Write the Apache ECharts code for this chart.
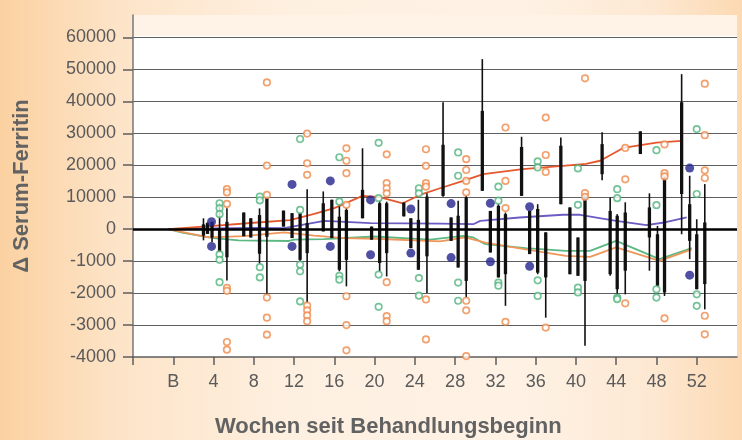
<!DOCTYPE html>
<html>
<head>
<meta charset="utf-8">
<script src="https://cdn.jsdelivr.net/npm/echarts@6/dist/echarts.min.js"></script>
<style>
html,body{margin:0;padding:0;}
body{width:742px;height:440px;background:linear-gradient(90deg,#fbd1a1 0%,#fde4c8 16%,#fef0e1 40%,#fef2e5 70%,#fde8d2 88%,#fcd9b2 100%);}
#c{width:742px;height:440px;}
</style>
</head>
<body>
<div id="c"></div>
<script>
// ---- tick labels ----
const xTickValues = [0,4,8,12,16,20,24,28,32,36,40,44,48,52];
const xTickLabels = ['B','4','8','12','16','20','24','28','32','36','40','44','48','52'];
const yTickValues = [-40000,-30000,-20000,-10000,0,10000,20000,30000,40000,50000,60000];
const yTickLabels = ['-4000','-3000','-2000','-1000','0','10000','20000','30000','40000','50000','60000'];

// ---- median lines [week, value] ----
const lineUpper = [[-0.5,0],[4,1000],[8,2000],[11.6,2800],[14,4800],[16,6600],[18.8,10400],[20.5,10000],[22.8,8100],[24.5,10700],[26.5,12800],[28.8,15100],[30.8,17200],[34.7,18800],[38.7,19800],[41,20400],[42.4,21400],[44.7,25400],[48,27100],[50.5,27600]];
const lineNavy = [[-0.5,0],[4,200],[8,400],[11,300],[15,2600],[19.6,1900],[26.5,1700],[29.8,1550],[30.5,2600],[34.4,3650],[38.7,4500],[40.4,4500],[44,2600],[47,1250],[48.6,2000],[51,3650]];
const lineGreen = [[-0.5,0],[1,-1200],[4,-2800],[6.5,-3500],[11.5,-3700],[12,-3300],[15,-3100],[20,-2300],[25.5,-3300],[28.8,-2100],[29.8,-2600],[31,-4700],[35,-5950],[39,-6800],[41.4,-6800],[44,-3650],[48.3,-9400],[51.5,-5950]];
const lineLower = [[-0.5,0],[3.5,-2600],[7,-2200],[11,-1000],[14,-2000],[17,-2800],[20,-3000],[26.5,-3850],[29,-2600],[31,-4200],[35,-6300],[39,-8350],[41.4,-8700],[44,-5700],[48.3,-9900],[51.5,-6300]];

// ---- range bars [week, thinLow, thinHigh, thickLow, thickHigh] ----
const rangeBars = [
 [3.0,-3500,3400,-2000,1500],[3.4,-1500,2000,-1500,2000],[3.85,-4000,2300,-2600,2300],[4.6,-7200,8100,-7200,200],[5.33,-16100,6500,-8800,2300],
 [7.0,-2200,5200,-2200,5200],[7.7,-2600,3400,-2600,3400],[8.57,-10800,6500,-7700,4400],[9.3,-20300,10200,-2400,10200],
 [10.95,800,5800,800,5800],[11.8,-2800,5000,-2800,5000],[12.6,-10100,5000,-9600,5000],[13.3,-23100,12500,-7500,1900],
 [14.9,-700,11800,-700,8100],[15.75,-2800,9200,-2800,9200],[16.5,-13200,7100,-12700,3900],[17.2,-17900,6600,-9600,6000],
 [18.8,3400,25300,3400,12300],[19.7,-3300,800,-3300,800],[20.5,-13200,9200,-10600,8100],[21.2,-14800,8600,-7500,8100],
 [22.9,4000,8300,4000,8300],[23.6,-5900,3400,-5900,3400],[24.35,-12700,9200,-12700,2900],[25.2,-20000,11200,-8500,10200],
 [26.8,10100,39700,10400,26400],[27.6,-3650,3650,-3650,3650],[28.3,-12000,8900,-12000,4200],[29.1,-21400,10400,-16200,9900],
 [30.7,12000,53200,12000,37000],[31.5,-7300,5700,-7300,5700],[32.3,-15100,7800,-15100,7300],[33.0,-24000,5200,-14100,4700],
 [34.6,10400,28900,10400,25700],[35.4,-7800,5700,-7800,5700],[36.2,-14100,7800,-13600,6300],[37.0,-27700,-1000,-15100,-1000],
 [38.5,7800,28700,7800,26100],[39.4,-14100,6800,-14100,6800],[40.2,-14600,-2600,-14600,-2600],[40.9,-36500,11000,-16200,10400],
 [42.6,15300,30300,17200,26600],[43.4,-14600,9900,-14100,5700],[44.1,-20600,4700,-18800,4200],[44.9,-20400,8400,-13000,5200],
 [46.4,23500,30600,23500,30600],[47.3,-13000,11200,-2600,6800],[48.1,-18300,1000,-17700,-1600],[48.8,-20900,17700,-19800,16100],
 [50.5,-1600,48500,11000,39700],[51.3,-9400,16700,-3650,7800],[52.0,-18800,3100,-18800,-1600],[52.8,-25100,14100,-17200,2100]
];

// ---- individual points [week, value] ----
const navyPoints = [[3.8,2300],[3.8,-5400],[11.8,14000],[11.8,-5400],[15.6,15100],[15.6,-5400],[19.6,9150],[19.6,-8000],[23.6,6300],[23.6,-7500],[27.6,8000],[27.6,-8900],[31.5,8100],[31.5,-10200],[35.4,7000],[35.4,-11600],[51.3,19100],[51.3,-14400]];
const orangePoints = [
 [5.33,12500],[5.33,11500],[5.33,7900],[5.33,-18400],[5.33,-19300],[5.33,-35300],[5.33,-37700],
 [9.3,45900],[9.3,19900],[9.3,10700],[9.3,-21400],[9.3,-27700],[9.3,-33000],
 [13.3,29900],[13.3,20600],[13.3,17000],[13.3,-23900],[13.3,-25400],[13.3,-27000],[13.3,-28800],
 [17.2,25300],[17.2,21400],[17.2,17500],[17.2,7600],[17.2,-21000],[17.2,-30000],[17.2,-37900],
 [21.2,23400],[21.2,14400],[21.2,12800],[21.2,11200],[21.2,-16600],[21.2,-27200],[21.2,-28800],
 [25.1,25000],[25.1,19800],[25.1,14400],[25.1,13300],[25.1,-22000],[25.1,-34500],
 [29.1,21900],[29.1,18500],[29.1,15100],[29.1,11500],[29.1,-22400],[29.1,-25400],[29.1,-39700],
 [33.0,31800],[33.0,15100],[33.0,6600],[33.0,-29000],
 [37.0,34900],[37.0,23200],[37.0,17900],[37.0,-30800],
 [40.9,47200],[40.9,11300],[40.9,10100],
 [44.9,25400],[44.9,15600],[44.9,-23200],
 [48.8,26500],[48.8,17500],[48.8,16500],[48.8,-27900],
 [52.8,45500],[52.8,29400],[52.8,18400],[52.8,16000],[52.8,-27100],[52.8,-32900]
];
const greenPoints = [
 [4.6,8100],[4.6,6500],[4.6,4700],[4.6,-7900],[4.6,-9600],[4.6,-16600],
 [8.6,10200],[8.6,9000],[8.6,-11900],[8.6,-15100],
 [12.6,28200],[12.6,6000],[12.6,-11100],[12.6,-13200],[12.6,-22600],
 [16.5,22500],[16.5,8600],[16.5,-14600],[16.5,-15800],
 [20.4,27000],[20.4,9700],[20.4,-14200],[20.4,-24300],
 [24.4,12800],[24.4,11200],[24.4,-15300],[24.4,-20800],
 [28.3,24000],[28.3,16700],[28.3,-16700],[28.3,-22400],
 [32.3,13300],[32.3,8900],[32.3,-16700],[32.3,-17700],
 [36.2,21200],[36.2,19300],[36.2,-16000],[36.2,-20900],
 [40.2,19000],[40.2,7600],[40.2,-18300],[40.2,-19800],
 [44.1,12500],[44.1,9700],[44.1,-21400],[44.1,-21900],
 [48.0,24700],[48.0,7500],[48.0,-18800],[48.0,-21400],
 [52.0,31300],[52.0,11000],[52.0,-20400],[52.0,-24000]
];

const chart = echarts.init(document.getElementById('c'), null, {renderer:'canvas'});
const gray = '#5e5e5e';
const tickFont = {color:'#5a5a5a', fontSize:18, fontFamily:'Liberation Sans, Arial, sans-serif'};

function renderBar(params, api){
  const x = api.value(0);
  const a = api.coord([x, api.value(1)]), b = api.coord([x, api.value(2)]);
  const c = api.coord([x, api.value(3)]), d = api.coord([x, api.value(4)]);
  return {type:'group', children:[
    {type:'line', shape:{x1:a[0],y1:a[1],x2:b[0],y2:b[1]}, style:{stroke:'#111', lineWidth:1.6}},
    {type:'line', shape:{x1:c[0],y1:c[1],x2:d[0],y2:d[1]}, style:{stroke:'#111', lineWidth:3.3}}
  ]};
}

function lineSeries(data, color, extra){
  return Object.assign({type:'line', data:data, symbol:'none', z:3, silent:true,
    lineStyle:{color:color, width:1.8}}, extra||{});
}

chart.setOption({
  animation:false,
  backgroundColor:'transparent',
  grid:{left:133, right:5, top:15, bottom:83, show:true, backgroundColor:'#ffffff', borderWidth:0},
  xAxis:{
    type:'value', min:-4, max:56, interval:4, z:1,
    axisLine:{show:true, onZero:false, lineStyle:{color:gray, width:1.5}},
    axisTick:{show:true, length:8, customValues:[-4].concat(xTickValues), lineStyle:{color:gray, width:1.5}},
    axisLabel:Object.assign({margin:16, customValues:xTickValues,
      formatter:function(v){const i=xTickValues.indexOf(v); return i>=0?xTickLabels[i]:'';}}, tickFont),
    splitLine:{show:false}
  },
  yAxis:{
    type:'value', min:-40000, max:67000, interval:10000, z:1,
    name:'\u0394 Serum-Ferritin', nameLocation:'middle', nameGap:100, nameRotate:90,
    nameTextStyle:{color:'#626262', fontSize:22, fontWeight:'bold', fontFamily:'Liberation Sans, Arial, sans-serif'},
    axisLine:{show:true, onZero:false, lineStyle:{color:'#777', width:1.5}},
    axisTick:{show:true, length:10, customValues:yTickValues, lineStyle:{color:gray, width:1.5}},
    axisLabel:Object.assign({margin:17, customValues:yTickValues,
      formatter:function(v){const i=yTickValues.indexOf(v); return i>=0?yTickLabels[i]:'';}}, tickFont),
    splitLine:{show:true, showMinLine:false, lineStyle:{color:gray, width:1.2}}
  },
  graphic:[{type:'text', left:215, top:416, style:{text:'Wochen seit Behandlungsbeginn', fill:'#626262',
    font:'bold 22px "Liberation Sans", Arial, sans-serif'}}],
  series:[
    lineSeries(lineNavy, '#6b5cc4', {
      markArea:{silent:true, itemStyle:{color:'rgba(253,238,220,0.7)'}, data:[[{yAxis:60500},{yAxis:67000}]]}
    }),
    lineSeries(lineGreen, '#5bb882'),
    lineSeries(lineLower, '#f0965a'),
    lineSeries(lineUpper, '#e4582e', {
      markLine:{silent:true, symbol:'none', label:{show:false}, lineStyle:{color:'#000', width:2.6, type:'solid'}, data:[{yAxis:0}]}
    }),
    {type:'custom', renderItem:renderBar, data:rangeBars, z:4, silent:true,
      encode:{x:0, y:[1,2,3,4]}},
    {type:'scatter', data:greenPoints, z:5, symbol:'circle', symbolSize:6.5, silent:true,
      itemStyle:{color:'#ffffff', borderColor:'#52b47e', borderWidth:1.7}},
    {type:'scatter', data:orangePoints, z:5, symbol:'circle', symbolSize:6.5, silent:true,
      itemStyle:{color:'#ffffff', borderColor:'#ef8a4a', borderWidth:1.7}},
    {type:'scatter', data:navyPoints, z:6, symbol:'circle', symbolSize:9, silent:true,
      itemStyle:{color:'#23238c'}}
  ]
});
</script>
</body>
</html>
